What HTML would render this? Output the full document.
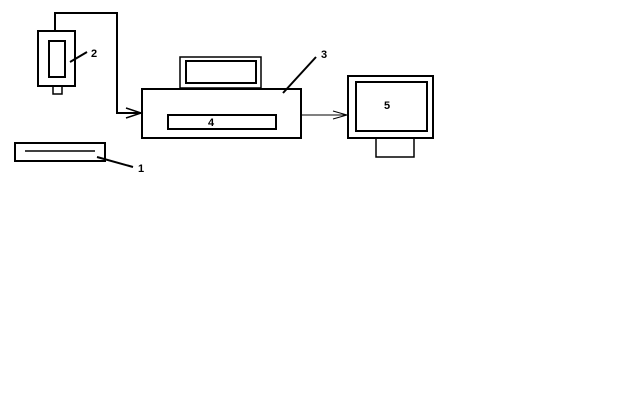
<!DOCTYPE html>
<html><head><style>body{margin:0;background:#fff}svg{display:block}</style></head><body>
<svg width="638" height="400" xmlns="http://www.w3.org/2000/svg" font-family="Liberation Sans, sans-serif" font-size="11" font-weight="bold">
<g fill="none" stroke="#000" stroke-width="2">
<rect x="38" y="31" width="37" height="55"/>
<rect x="49" y="41" width="16" height="36"/>
<rect x="53" y="86" width="9" height="8" stroke-width="1.5"/>
<polyline points="55,31 55,13 117,13 117,113 141,113"/>
<path d="M126,108 L141,113 L126,118" stroke-width="1.5"/>
<rect x="142" y="89" width="159" height="49"/>
<rect x="168" y="115" width="108" height="14"/>
<rect x="180" y="57" width="81" height="31" stroke-width="1.5"/>
<rect x="186" y="61" width="70" height="22"/>
<rect x="15" y="143" width="90" height="18"/>
<line x1="25" y1="151" x2="95" y2="151" stroke-width="1.5"/>
<rect x="348" y="76" width="85" height="62"/>
<rect x="356" y="82" width="71" height="49"/>
<rect x="376" y="138" width="38" height="19" stroke-width="1.5"/>
</g>
<g stroke="#000" fill="none">
<line x1="70" y1="62" x2="87" y2="52" stroke-width="2"/>
<line x1="283" y1="93" x2="316" y2="57" stroke-width="2"/>
<line x1="97" y1="157" x2="133" y2="167" stroke-width="2"/>
<line x1="301" y1="115" x2="347" y2="115" stroke-width="1"/>
<path d="M333,111 L347,115 L333,119" stroke-width="1"/>
</g>
<text x="91" y="57">2</text>
<text x="321" y="58">3</text>
<text x="138" y="172">1</text>
<text x="208" y="126">4</text>
<text x="384" y="109">5</text>
</svg>
</body></html>
